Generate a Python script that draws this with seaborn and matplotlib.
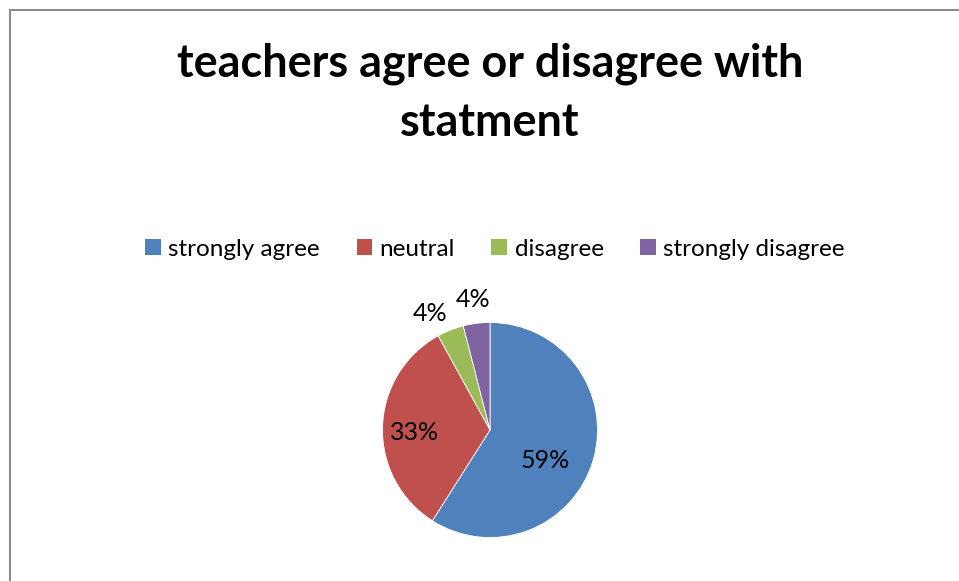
import matplotlib
matplotlib.use("Agg")
import matplotlib.pyplot as plt
import seaborn as sns
from matplotlib.patches import Patch, Rectangle
import numpy as np

categories = ["strongly agree", "neutral", "disagree", "strongly disagree"]
values = [59, 33, 4, 4]
pct_labels = ["59%", "33%", "4%", "4%"]
colors = ["#4F81BD", "#C0504D", "#9BBB59", "#8064A2"]
title = "teachers agree or disagree with\nstatment"

sns.set_theme(style="white")
plt.rcParams["font.family"] = ["Lato", "DejaVu Sans"]
plt.rcParams["text.color"] = "black"
palette = sns.color_palette(colors)

W, H = 959, 581
fig = plt.figure(figsize=(W / 100, H / 100), dpi=100)
fig.patch.set_facecolor("white")

# chart frame (left and top edges visible)
fig.add_artist(Rectangle((10 / W, -0.5), 2.0, (H - 10) / H + 0.5,
                         transform=fig.transFigure, fill=False,
                         ec="#8c8c8c", lw=1.5))

cx, cy, r = 490, 430, 107.5
ax = fig.add_axes([(cx - r) / W, (H - cy - r) / H, 2 * r / W, 2 * r / H])
wedges, _ = ax.pie(values, colors=palette, startangle=90, counterclock=False,
                   wedgeprops=dict(edgecolor="white", linewidth=0.6))
ax.set_xlim(-1, 1)
ax.set_ylim(-1, 1)
ax.set_aspect("equal")

# label placement (distance as fraction of radius, angle in degrees)
label_pos = [(0.59, -28.6), (0.70, 182.0), (1.22, 117.0), (1.22, 97.5)]
for txt, (d, a) in zip(pct_labels, label_pos):
    t = np.deg2rad(a)
    ax.text(d * np.cos(t), d * np.sin(t), txt, ha="center", va="center",
            fontsize=18, color="black", clip_on=False)

fig.text(490 / W, 1 - 93 / H, title, ha="center", va="center",
         fontsize=32.4, fontweight="bold", linespacing=1.5, color="black")

handles = [Patch(facecolor=c, edgecolor="none") for c in palette]
fig.legend(handles, categories, loc="center", bbox_to_anchor=(495 / W, 1 - 249 / H),
           ncol=4, frameon=False, fontsize=17.5, handlelength=0.65, handleheight=0.65,
           handletextpad=0.3, columnspacing=1.5, labelcolor="black")

fig.savefig("out.png", dpi=100)
